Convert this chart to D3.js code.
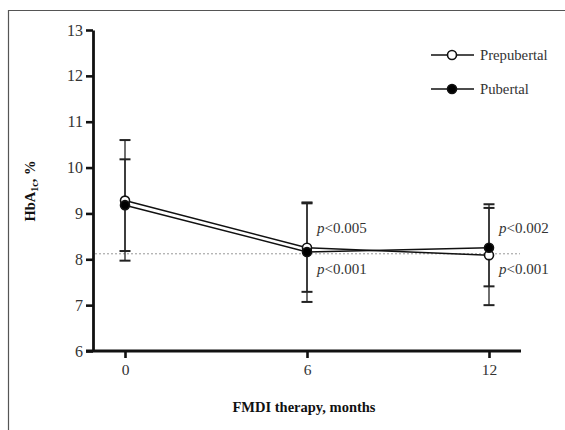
<!DOCTYPE html>
<html><head><meta charset="utf-8">
<script src="https://cdn.jsdelivr.net/npm/d3@7"></script>
<style>body{margin:0;background:#fff}svg{display:block}</style>
</head><body>
<script>
const months = [0, 6, 12];
const preMean = [9.28, 8.25, 8.09];
const preLow = [7.97, 7.29, 7.0];
const preHigh = [10.6, 9.24, 9.12];
const pubMean = [9.18, 8.16, 8.25];
const pubLow = [8.18, 7.07, 7.41];
const pubHigh = [10.18, 9.22, 9.2];
const yTicks = [6, 7, 8, 9, 10, 11, 12, 13];
const refLine = 8.12;
const pLabelsTop = [{m: 6, t: "<0.005"}, {m: 12, t: "<0.002"}];
const pLabelsBottom = [{m: 6, t: "<0.001"}, {m: 12, t: "<0.001"}];
const seriesNames = ["Prepubertal", "Pubertal"];

const W = 565, H = 430;
const svg = d3.select("body").append("svg").attr("width", W).attr("height", H);
const font = "'Liberation Serif', 'Times New Roman', serif";

// frame
svg.append("line").attr("x1", 8).attr("x2", W).attr("y1", 10.5).attr("y2", 10.5).attr("stroke", "#555").attr("stroke-width", 1.2);
svg.append("line").attr("x1", 8.5).attr("x2", 8.5).attr("y1", 10).attr("y2", H).attr("stroke", "#555").attr("stroke-width", 1.2);

const x = d3.scaleLinear().domain([0, 12]).range([125, 489]);
const y = d3.scaleLinear().domain([6, 13]).range([351, 30]);

// reference line
svg.append("line").attr("x1", 95).attr("x2", 520).attr("y1", y(refLine)).attr("y2", y(refLine))
  .attr("stroke", "#999").attr("stroke-width", 1).attr("stroke-dasharray", "2,2");

// y axis
const yAxis = svg.append("g").attr("transform", "translate(93,0)")
  .call(d3.axisLeft(y).tickValues(yTicks).tickFormat(d3.format("d")).tickSize(7).tickSizeOuter(0).tickPadding(3));
yAxis.attr("font-family", font);
yAxis.select(".domain").attr("stroke", "#111").attr("stroke-width", 2.8);
yAxis.selectAll(".tick line").attr("stroke", "#111").attr("stroke-width", 2.6);
yAxis.selectAll("text").attr("font-family", font).attr("font-size", 16).attr("fill", "#333");

// x axis
const xAxis = svg.append("g").attr("transform", "translate(0,351)")
  .call(d3.axisBottom(x).tickValues(months).tickFormat(d3.format("d")).tickSize(7).tickSizeOuter(0).tickPadding(6));
xAxis.attr("font-family", font);
xAxis.select(".domain").attr("d", "M86,0H521").attr("stroke", "#111").attr("stroke-width", 2.8);
xAxis.selectAll(".tick line").attr("stroke", "#111").attr("stroke-width", 2.6);
xAxis.selectAll("text").attr("font-family", font).attr("font-size", 15.5).attr("fill", "#333");

// titles
svg.append("text").attr("x", 304).attr("y", 412).attr("text-anchor", "middle")
  .attr("font-family", font).attr("font-size", 14.5).attr("font-weight", "bold").attr("fill", "#111")
  .text("FMDI therapy, months");
const yt = svg.append("text").attr("transform", "translate(35,191) rotate(-90)").attr("text-anchor", "middle")
  .attr("font-family", font).attr("font-size", 14.5).attr("font-weight", "bold").attr("fill", "#111");
yt.append("tspan").text("HbA");
yt.append("tspan").attr("font-size", 10).attr("dy", 3).text("1c");
yt.append("tspan").attr("dy", -3).text(", %");

// series
const series = [
  {mean: preMean, lo: preLow, hi: preHigh, fill: "#fff"},
  {mean: pubMean, lo: pubLow, hi: pubHigh, fill: "#000"}
];
const line = d3.line().x((d, i) => x(months[i])).y(d => y(d));
series.forEach(s => {
  const g = svg.append("g");
  months.forEach((m, i) => {
    g.append("line").attr("x1", x(m)).attr("x2", x(m)).attr("y1", y(s.lo[i])).attr("y2", y(s.hi[i]))
      .attr("stroke", "#222").attr("stroke-width", 1.3);
    [s.lo[i], s.hi[i]].forEach(v => {
      g.append("line").attr("x1", x(m) - 5.5).attr("x2", x(m) + 5.5).attr("y1", y(v)).attr("y2", y(v))
        .attr("stroke", "#222").attr("stroke-width", 2);
    });
  });
});
series.forEach(s => {
  svg.append("path").datum(s.mean).attr("d", line).attr("fill", "none").attr("stroke", "#111").attr("stroke-width", 1.5);
});
series.forEach(s => {
  svg.append("g").selectAll("circle").data(s.mean).join("circle")
    .attr("cx", (d, i) => x(months[i])).attr("cy", d => y(d)).attr("r", 4.5)
    .attr("fill", s.fill).attr("stroke", "#111").attr("stroke-width", 1.6);
});

// p-value labels
function pLabel(d, yy) {
  const t = svg.append("text").attr("x", x(d.m) + 10).attr("y", yy)
    .attr("font-family", font).attr("font-size", 15).attr("fill", "#333");
  t.append("tspan").attr("font-style", "italic").text("p");
  t.append("tspan").text(d.t);
}
pLabelsTop.forEach(d => pLabel(d, 233));
pLabelsBottom.forEach(d => pLabel(d, 274));

// legend
const legY = [55, 89];
series.forEach((s, i) => {
  const lx = 431;
  svg.append("line").attr("x1", lx).attr("x2", lx + 43).attr("y1", legY[i]).attr("y2", legY[i])
    .attr("stroke", "#111").attr("stroke-width", 1.5);
  svg.append("circle").attr("cx", lx + 21).attr("cy", legY[i]).attr("r", 4.5)
    .attr("fill", s.fill).attr("stroke", "#111").attr("stroke-width", 1.6);
  svg.append("text").attr("x", 480).attr("y", legY[i] + 5).attr("font-family", font).attr("font-size", 14.7)
    .attr("fill", "#333").text(seriesNames[i]);
});
</script>
</body></html>
